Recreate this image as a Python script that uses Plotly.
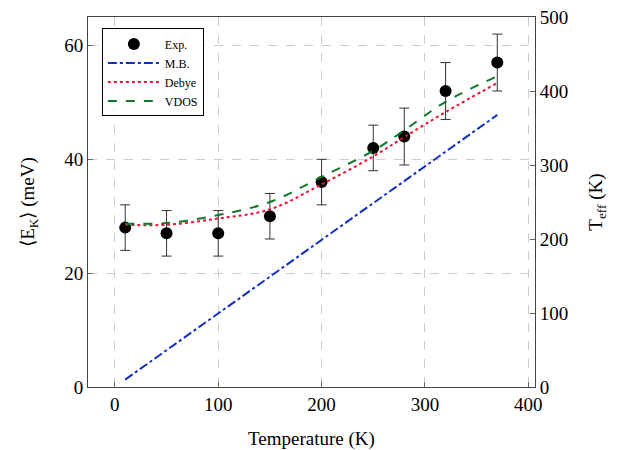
import plotly.graph_objects as go

# Data
temp_exp = [10, 50, 100, 150, 200, 250, 280, 320, 370]
ek_exp = [28, 27, 27, 30, 36, 42, 44, 52, 57]
ek_err = [4, 4, 4, 4, 4, 4, 5, 5, 5]

temp_mb = [10, 100, 200, 300, 370]
ek_mb = [1.3, 12.9, 25.8, 38.8, 47.8]

temp_model = [10, 50, 100, 150, 200, 250, 280, 320, 370]
ek_debye = [28.5, 28.5, 29.6, 31.2, 35.6, 40.5, 43.9, 48.3, 53.4]
ek_vdos = [28.7, 28.8, 30.2, 32.5, 36.9, 41.5, 45.1, 50.1, 54.6]

x_ticks = [0, 100, 200, 300, 400]
y_ticks = [0, 20, 40, 60]
y2_ticks = [0, 100, 200, 300, 400, 500]

FONT = "Liberation Serif"

fig = go.Figure()
fig.add_trace(go.Scatter(
    x=temp_exp, y=ek_exp, mode="markers", name="Exp.",
    marker=dict(color="black", size=12),
    error_y=dict(type="data", array=ek_err, color="#333333", thickness=1, width=5),
))
fig.add_trace(go.Scatter(
    x=temp_mb, y=ek_mb, mode="lines", name="M.B.",
    line=dict(color="#1030c0", width=2, dash="dashdot"),
))
fig.add_trace(go.Scatter(
    x=temp_model, y=ek_debye, mode="lines", name="Debye", line_shape="spline",
    line=dict(color="#ee1133", width=2, dash="dot"),
))
fig.add_trace(go.Scatter(
    x=temp_model, y=ek_vdos, mode="lines", name="VDOS", line_shape="spline",
    line=dict(color="#11772a", width=2, dash="dash"),
))
# dummy trace for right axis
fig.add_trace(go.Scatter(x=[0], y=[0], yaxis="y2", showlegend=False,
                         mode="markers", marker=dict(opacity=0), hoverinfo="skip"))

axis_common = dict(
    showline=True, linecolor="#444444", linewidth=1,
    ticks="inside", ticklen=5, tickcolor="#666666",
    tickfont=dict(family=FONT, size=19, color="black"),
    zeroline=False, automargin=False,
)

fig.update_layout(
    width=620, height=450,
    margin=dict(l=88, r=85, t=17, b=63),
    plot_bgcolor="white", paper_bgcolor="white",
    font=dict(family=FONT, color="black"),
    xaxis=dict(
        range=[-26, 406.5], tickvals=x_ticks, mirror=True,
        showgrid=True, gridcolor="#cccccc", griddash="dash", gridwidth=1,
        title=dict(text="Temperature (K)", font=dict(family=FONT, size=19), standoff=18),
        **axis_common,
    ),
    yaxis=dict(
        range=[0, 65], tickvals=y_ticks,
        showgrid=True, gridcolor="#cccccc", griddash="dash", gridwidth=1,
        title=dict(text="⟨E<sub>K</sub>⟩ (meV)", font=dict(family=FONT, size=19), standoff=24),
        **axis_common,
    ),
    yaxis2=dict(
        range=[0, 500], tickvals=y2_ticks, overlaying="y", side="right",
        showgrid=False,
        title=dict(text="T<sub>eff</sub> (K)", font=dict(family=FONT, size=19), standoff=21),
        **axis_common,
    ),
    legend=dict(
        x=0.031, y=0.969, xanchor="left", yanchor="top",
        bgcolor="white", bordercolor="black", borderwidth=1,
        font=dict(family=FONT, size=12), itemwidth=52, tracegroupgap=0,
    ),
)

fig.write_html("out.html")
